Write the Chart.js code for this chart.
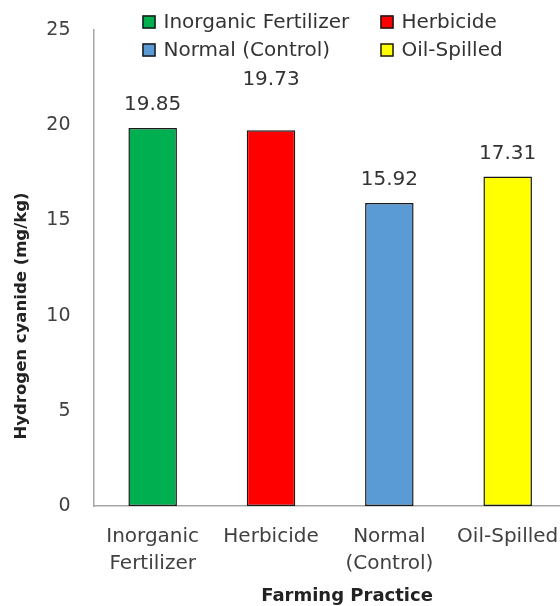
<!DOCTYPE html>
<html>
<head>
<meta charset="utf-8">
<script src="https://cdn.jsdelivr.net/npm/chart.js@4.4.1/dist/chart.umd.min.js"></script>
<style>
  html, body { margin: 0; padding: 0; background: #fff; overflow: hidden; width: 560px; height: 606px; }
  #wrap { width: 576px; height: 606px; }
  canvas { display: block; }
</style>
</head>
<body>
<div id="wrap"><canvas id="c" width="576" height="606"></canvas></div>
<script>
// ---- data ----
const categories = ['Inorganic Fertilizer', 'Herbicide', 'Normal (Control)', 'Oil-Spilled'];
const tickLabels = [['Inorganic', 'Fertilizer'], ['Herbicide'], ['Normal', '(Control)'], ['Oil-Spilled']];
const hcnValues = [19.85, 19.73, 15.92, 17.31];
const valueLabels = ['19.85', '19.73', '15.92', '17.31'];
const yTicks = [0, 5, 10, 15, 20, 25];
const yTitle = 'Hydrogen cyanide (mg/kg)';
const xTitle = 'Farming Practice';

// ---- styles ----
const barColors = ['#00B050', '#FF0000', '#5B9BD5', '#FFFF00'];
const FONT = "'DejaVu Sans', sans-serif";
const TXT = '#404040';

const overlayPlugin = {
  id: 'overlay',
  afterDatasetsDraw(chart) {
    const ctx = chart.ctx;
    const meta = chart.getDatasetMeta(0);
    const lift = [23, 51, 23, 23];
    ctx.save();
    // value labels
    ctx.font = '20px ' + FONT;
    ctx.fillStyle = '#333';
    ctx.textAlign = 'center';
    ctx.textBaseline = 'middle';
    meta.data.forEach((bar, i) => {
      ctx.fillText(valueLabels[i], bar.x, bar.y - lift[i]);
    });
    // legend (2 x 2)
    const ca = chart.chartArea;
    const cols = [ca.left + 49, ca.left + 287];
    const rows = [22, 50];
    ctx.font = '20px ' + FONT;
    ctx.textAlign = 'left';
    categories.forEach((name, i) => {
      const x = cols[i % 2], y = rows[Math.floor(i / 2)];
      ctx.fillStyle = barColors[i];
      ctx.fillRect(x, y - 6.5, 13, 13);
      ctx.strokeStyle = '#1a1a1a';
      ctx.lineWidth = 1.5;
      ctx.strokeRect(x + 0.5, y - 6, 12, 12);
      ctx.fillStyle = '#333';
      ctx.fillText(name, x + 21, y + 1);
    });
    // axis titles
    ctx.fillStyle = '#222';
    ctx.font = 'bold 16.5px ' + FONT;
    ctx.textAlign = 'center';
    ctx.save();
    ctx.translate(22, 316);
    ctx.rotate(-Math.PI / 2);
    ctx.fillText(yTitle, 0, 0);
    ctx.restore();
    ctx.font = 'bold 18px ' + FONT;
    ctx.fillText(xTitle, 347, 596);
    ctx.restore();
  }
};

new Chart(document.getElementById('c'), {
  type: 'bar',
  data: {
    labels: tickLabels,
    datasets: [{
      label: 'Hydrogen cyanide',
      data: hcnValues,
      backgroundColor: barColors,
      borderColor: '#1a1a1a',
      borderWidth: 1.5,
      borderSkipped: false,
      barPercentage: 0.82,
      categoryPercentage: 0.5
    }]
  },
  options: {
    responsive: false,
    animation: false,
    devicePixelRatio: 1,
    layout: { padding: { top: 30, right: 6, left: 0, bottom: 0 } },
    plugins: { legend: { display: false }, tooltip: { enabled: false } },
    scales: {
      x: {
        grid: { display: false, drawTicks: false },
        border: { display: true, color: '#a6a6a6', width: 1.5 },
        ticks: { color: TXT, font: { family: FONT, size: 20, lineHeight: 1.35 }, padding: 17, maxRotation: 0, autoSkip: false },
        afterFit(scale) { scale.height = 100; }
      },
      y: {
        min: 0, max: 25,
        grid: { display: false, drawTicks: false },
        border: { display: true, color: '#a6a6a6', width: 1.5 },
        afterBuildTicks(scale) { scale.ticks = yTicks.map(v => ({ value: v })); },
        ticks: { color: TXT, font: { family: FONT, size: 19 }, padding: 23 },
        afterFit(scale) { scale.width = 93.5; scale.paddingTop = 0; scale.paddingBottom = 0; }
      }
    }
  },
  plugins: [overlayPlugin]
});
</script>
</body>
</html>
